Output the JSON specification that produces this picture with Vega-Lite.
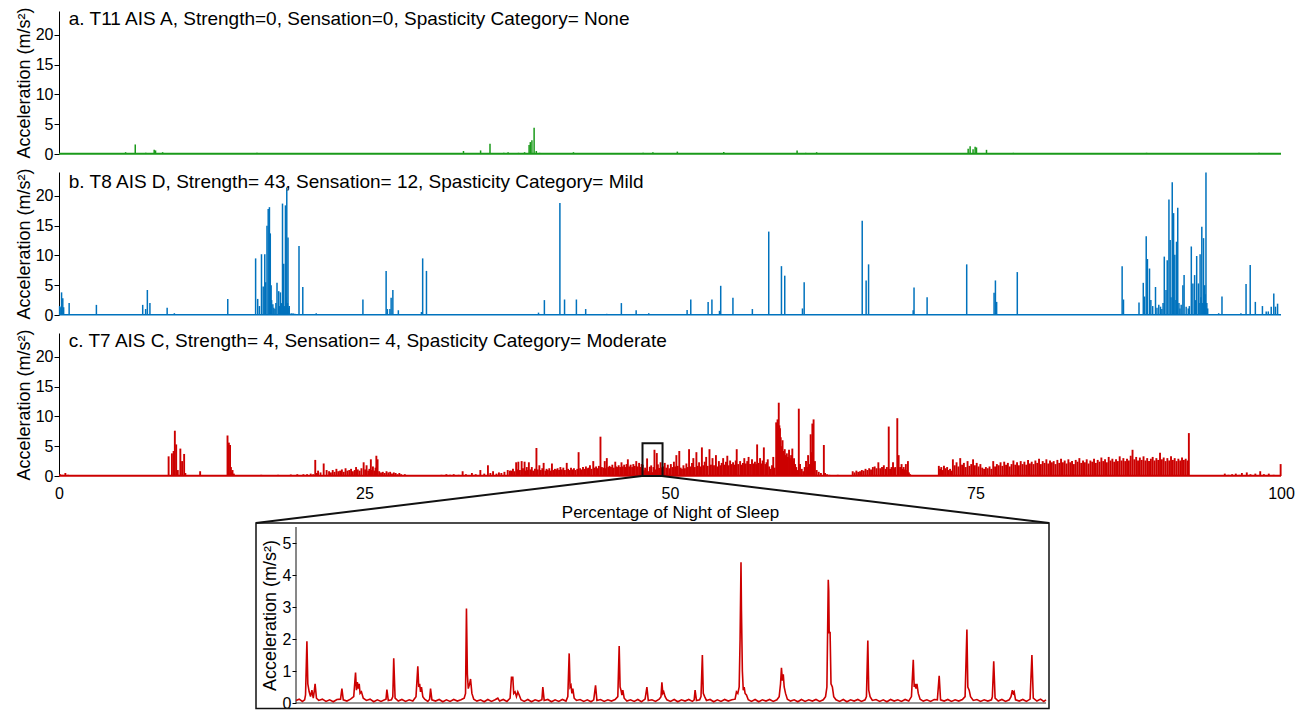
{
"$schema":"https://vega.github.io/schema/vega-lite/v6.json",
"background":"white",
"padding":{"left":15,"top":6,"right":8,"bottom":2},
"bounds":"flush",
"spacing":18,
"config":{"view":{"stroke":null},"font":"Liberation Sans",
"axis":{"labelFont":"Liberation Sans","titleFont":"Liberation Sans","labelColor":"#000","titleColor":"#000","domainColor":"#000","tickColor":"#000","labelFontSize":16,"titleFontSize":18,"titleFontWeight":"normal","grid":false,"labelOverlap":false}},
"datasets":{
"a":[{"x":2.0,"y":0.1},{"x":5.45,"y":0.3},{"x":6.24,"y":1.6},{"x":7.1,"y":0.2},{"x":7.79,"y":0.7},{"x":7.9,"y":0.6},{"x":8.48,"y":0.3},{"x":9.0,"y":0.15},{"x":11.5,"y":0.1},{"x":13.0,"y":0.1},{"x":16.2,"y":0.2},{"x":17.96,"y":0.1},{"x":33.1,"y":0.5},{"x":34.5,"y":0.6},{"x":35.27,"y":1.7},{"x":36.4,"y":0.2},{"x":36.75,"y":0.3},{"x":37.6,"y":0.2},{"x":38.1,"y":0.3},{"x":38.47,"y":1.5},{"x":38.57,"y":2.0},{"x":38.7,"y":2.3},{"x":38.88,"y":4.4},{"x":39.06,"y":0.5},{"x":39.33,"y":0.2},{"x":42.1,"y":0.3},{"x":47.8,"y":0.2},{"x":48.6,"y":0.3},{"x":49.6,"y":0.1},{"x":50.6,"y":0.4},{"x":53.0,"y":0.1},{"x":54.4,"y":0.35},{"x":58.0,"y":0.1},{"x":60.4,"y":0.6},{"x":61.1,"y":0.2},{"x":62.0,"y":0.3},{"x":74.4,"y":0.9},{"x":74.56,"y":1.3},{"x":74.8,"y":0.8},{"x":74.97,"y":1.2},{"x":75.08,"y":1.1},{"x":75.9,"y":0.7},{"x":77.5,"y":0.1},{"x":78.1,"y":0.2},{"x":83.3,"y":0.1},{"x":86.0,"y":0.1},{"x":89.0,"y":0.2},{"x":92.3,"y":0.1},{"x":95.0,"y":0.1},{"x":98.2,"y":0.2}],
"b":[{"x":0.05,"y":1.5},{"x":0.15,"y":1.3},{"x":0.21,"y":3.8},{"x":0.31,"y":2.8},{"x":0.38,"y":1.3},{"x":0.83,"y":2.0},{"x":3.06,"y":1.7},{"x":6.85,"y":1.7},{"x":7.09,"y":1.0},{"x":7.23,"y":4.2},{"x":7.44,"y":2.0},{"x":8.85,"y":1.2},{"x":9.44,"y":0.3},{"x":13.81,"y":2.7},{"x":16.09,"y":9.5},{"x":16.26,"y":2.7},{"x":16.4,"y":1.5},{"x":16.57,"y":10.2},{"x":16.71,"y":4.8},{"x":16.84,"y":10.2},{"x":16.91,"y":5.5},{"x":17.02,"y":15.0},{"x":17.12,"y":17.8},{"x":17.22,"y":18.1},{"x":17.29,"y":13.7},{"x":17.36,"y":5.0},{"x":17.4,"y":2.5},{"x":17.5,"y":1.8},{"x":17.58,"y":1.2},{"x":17.67,"y":1.0},{"x":17.75,"y":2.0},{"x":17.84,"y":5.4},{"x":17.98,"y":4.0},{"x":18.05,"y":1.5},{"x":18.12,"y":3.8},{"x":18.2,"y":2.0},{"x":18.29,"y":18.7},{"x":18.39,"y":8.6},{"x":18.46,"y":1.5},{"x":18.53,"y":18.4},{"x":18.58,"y":3.0},{"x":18.64,"y":21.4},{"x":18.7,"y":2.0},{"x":18.74,"y":13.0},{"x":18.8,"y":1.2},{"x":18.84,"y":1.5},{"x":19.0,"y":0.3},{"x":19.15,"y":0.3},{"x":19.3,"y":0.2},{"x":19.64,"y":11.6},{"x":19.95,"y":4.7},{"x":21.05,"y":0.3},{"x":24.87,"y":2.6},{"x":26.77,"y":7.4},{"x":26.87,"y":1.0},{"x":27.08,"y":1.0},{"x":27.18,"y":2.9},{"x":27.32,"y":4.2},{"x":27.77,"y":0.8},{"x":29.66,"y":0.5},{"x":29.76,"y":9.5},{"x":30.07,"y":7.4},{"x":39.24,"y":0.4},{"x":39.72,"y":2.5},{"x":40.99,"y":18.8},{"x":41.37,"y":2.6},{"x":42.34,"y":2.6},{"x":43.1,"y":1.0},{"x":44.82,"y":0.2},{"x":46.02,"y":2.0},{"x":47.23,"y":0.8},{"x":48.26,"y":0.3},{"x":51.4,"y":0.84},{"x":51.7,"y":2.6},{"x":53.12,"y":2.2},{"x":53.43,"y":2.6},{"x":54.05,"y":0.7},{"x":54.15,"y":4.9},{"x":55.15,"y":2.9},{"x":56.74,"y":1.0},{"x":58.08,"y":14.0},{"x":59.12,"y":8.2},{"x":59.39,"y":6.6},{"x":60.84,"y":1.1},{"x":60.98,"y":5.5},{"x":65.73,"y":15.8},{"x":66.05,"y":5.8},{"x":66.25,"y":8.5},{"x":69.9,"y":0.8},{"x":69.97,"y":4.6},{"x":71.04,"y":3.0},{"x":74.28,"y":8.5},{"x":76.52,"y":3.75},{"x":76.63,"y":5.8},{"x":76.73,"y":2.2},{"x":78.42,"y":7.2},{"x":87.0,"y":8.2},{"x":87.11,"y":2.6},{"x":88.38,"y":2.1},{"x":88.73,"y":5.4},{"x":88.83,"y":3.1},{"x":88.97,"y":13.2},{"x":89.07,"y":9.4},{"x":89.24,"y":7.8},{"x":89.35,"y":2.5},{"x":89.5,"y":1.5},{"x":89.73,"y":4.7},{"x":89.85,"y":1.2},{"x":90.0,"y":1.7},{"x":90.14,"y":1.4},{"x":90.25,"y":1.0},{"x":90.35,"y":2.0},{"x":90.45,"y":9.8},{"x":90.59,"y":4.2},{"x":90.69,"y":9.2},{"x":90.83,"y":19.4},{"x":90.93,"y":12.6},{"x":91.0,"y":3.0},{"x":91.1,"y":22.3},{"x":91.21,"y":17.1},{"x":91.31,"y":10.1},{"x":91.4,"y":2.5},{"x":91.45,"y":12.3},{"x":91.55,"y":18.0},{"x":91.65,"y":2.0},{"x":91.73,"y":1.1},{"x":91.83,"y":1.7},{"x":91.97,"y":5.0},{"x":92.07,"y":6.7},{"x":92.24,"y":1.4},{"x":92.41,"y":1.1},{"x":92.5,"y":1.5},{"x":92.66,"y":11.5},{"x":92.79,"y":5.3},{"x":92.93,"y":6.7},{"x":93.0,"y":2.5},{"x":93.1,"y":9.9},{"x":93.24,"y":5.3},{"x":93.3,"y":2.0},{"x":93.38,"y":10.2},{"x":93.45,"y":3.0},{"x":93.52,"y":14.8},{"x":93.6,"y":2.0},{"x":93.66,"y":12.9},{"x":93.76,"y":5.0},{"x":93.8,"y":3.5},{"x":93.86,"y":23.9},{"x":93.93,"y":2.0},{"x":94.0,"y":1.1},{"x":94.9,"y":0.3},{"x":95.17,"y":3.1},{"x":96.72,"y":0.3},{"x":97.14,"y":5.2},{"x":97.48,"y":8.4},{"x":97.9,"y":2.2},{"x":98.48,"y":1.5},{"x":98.79,"y":0.6},{"x":98.96,"y":0.6},{"x":99.2,"y":1.4},{"x":99.41,"y":3.6},{"x":99.55,"y":1.4},{"x":99.72,"y":1.9}],
"c":[{"x":0.1,"y":0.3},{"x":0.3,"y":0.2},{"x":0.52,"y":0.5},{"x":0.75,"y":0.2},{"x":1.0,"y":0.15},{"x":1.4,"y":0.1},{"x":2.1,"y":0.1},{"x":2.5,"y":0.1},{"x":3.5,"y":0.08},{"x":4.8,"y":0.1},{"x":5.5,"y":0.1},{"x":6.8,"y":0.1},{"x":7.5,"y":0.12},{"x":8.2,"y":0.1},
{"x":8.97,"y":3.3},{"x":9.24,"y":3.8},{"x":9.38,"y":4.2},{"x":9.48,"y":7.6},{"x":9.59,"y":5.3},{"x":9.72,"y":1.0},{"x":9.93,"y":4.6},{"x":10.07,"y":2.5},{"x":10.24,"y":3.7},{"x":10.34,"y":0.5},{"x":11.55,"y":0.8},{"x":13.79,"y":6.8},{"x":13.83,"y":2.2},{"x":13.9,"y":5.6},{"x":14.0,"y":5.2},{"x":14.07,"y":1.5},{"x":14.14,"y":0.7},{"x":14.2,"y":1.0},{"x":14.31,"y":0.4},{"x":15.0,"y":0.1},{"x":16.55,"y":0.2},{"x":17.93,"y":0.2},{"x":18.97,"y":0.25},{"x":19.5,"y":0.3},{"x":20.0,"y":0.3},{"x":20.3,"y":0.3},{"x":20.6,"y":0.4},{"x":20.8,"y":0.3},{"x":20.97,"y":2.7},{"x":21.1,"y":0.5},{"x":21.2,"y":0.9},{"x":21.4,"y":0.6},{"x":21.66,"y":2.1},{"x":21.9,"y":1.0},
{"x":22.1,"y":0.8},{"x":22.25,"y":0.6},{"x":22.4,"y":1.0},{"x":22.55,"y":0.7},{"x":22.7,"y":1.2},{"x":22.85,"y":0.8},{"x":23.0,"y":0.9},{"x":23.15,"y":1.1},{"x":23.3,"y":0.7},{"x":23.45,"y":1.3},{"x":23.6,"y":0.9},{"x":23.75,"y":1.0},{"x":23.9,"y":1.2},{"x":24.05,"y":0.8},{"x":24.2,"y":1.0},{"x":24.31,"y":1.5},{"x":24.45,"y":1.1},{"x":24.6,"y":0.9},{"x":24.75,"y":1.3},{"x":24.93,"y":2.3},{"x":25.05,"y":1.1},{"x":25.17,"y":1.8},{"x":25.3,"y":0.9},{"x":25.4,"y":1.2},{"x":25.52,"y":2.8},{"x":25.6,"y":1.0},{"x":25.69,"y":1.6},{"x":25.8,"y":0.9},{"x":25.9,"y":1.4},{"x":25.97,"y":3.4},{"x":26.07,"y":2.8},{"x":26.2,"y":0.8},{"x":26.35,"y":0.6},{"x":26.5,"y":0.7},{"x":26.65,"y":0.5},{"x":26.8,"y":0.8},{"x":26.95,"y":0.6},{"x":27.1,"y":0.7},{"x":27.25,"y":0.4},{"x":27.4,"y":0.6},{"x":27.55,"y":0.5},{"x":27.7,"y":0.3},{"x":27.85,"y":0.5},{"x":28.0,"y":0.3},{"x":28.3,"y":0.3},{"x":29.0,"y":0.15},{"x":29.6,"y":0.1},{"x":30.2,"y":0.15},{"x":30.8,"y":0.1},{"x":31.3,"y":0.2},
{"x":31.7,"y":0.3},{"x":32.0,"y":0.2},{"x":32.3,"y":0.3},{"x":32.7,"y":0.2},{"x":33.03,"y":0.8},{"x":33.3,"y":0.3},{"x":33.79,"y":0.5},{"x":34.1,"y":0.3},{"x":34.48,"y":1.0},{"x":34.8,"y":0.4},{"x":35.1,"y":1.8},{"x":35.3,"y":0.5},{"x":35.52,"y":0.8},{"x":35.8,"y":0.4},{"x":36.0,"y":0.6},{"x":36.2,"y":0.5},{"x":36.45,"y":0.7},{"x":36.72,"y":1.0},{"x":36.9,"y":0.9},
{"x":37.0,"y":0.9},{"x":37.15,"y":1.2},{"x":37.28,"y":0.8},{"x":37.41,"y":2.3},{"x":37.5,"y":1.1},{"x":37.59,"y":2.4},{"x":37.72,"y":1.0},{"x":37.86,"y":2.5},{"x":37.97,"y":1.3},{"x":38.1,"y":2.4},{"x":38.2,"y":0.9},{"x":38.28,"y":1.5},{"x":38.37,"y":1.0},{"x":38.45,"y":2.3},{"x":38.57,"y":1.1},{"x":38.69,"y":1.5},{"x":38.8,"y":0.9},{"x":38.95,"y":1.2},{"x":39.07,"y":4.7},{"x":39.18,"y":1.1},{"x":39.31,"y":1.8},{"x":39.43,"y":1.0},{"x":39.55,"y":1.3},{"x":39.66,"y":2.2},{"x":39.8,"y":0.9},{"x":39.9,"y":1.2},{"x":40.0,"y":1.0},{"x":40.12,"y":1.3},{"x":40.22,"y":0.9},{"x":40.34,"y":2.1},{"x":40.46,"y":1.0},{"x":40.58,"y":1.2},{"x":40.69,"y":1.1},{"x":40.8,"y":1.3},{"x":40.92,"y":1.0},{"x":41.03,"y":1.5},{"x":41.15,"y":1.1},{"x":41.27,"y":1.4},{"x":41.4,"y":1.0},{"x":41.55,"y":2.2},{"x":41.66,"y":1.2},{"x":41.78,"y":1.0},{"x":41.9,"y":1.4},{"x":42.02,"y":1.1},{"x":42.14,"y":1.3},{"x":42.27,"y":1.0},{"x":42.41,"y":1.2},{"x":42.52,"y":4.0},{"x":42.64,"y":1.3},{"x":42.76,"y":1.1},{"x":42.88,"y":1.5},{"x":43.0,"y":1.2},{"x":43.12,"y":1.6},{"x":43.23,"y":1.3},{"x":43.34,"y":1.4},{"x":43.45,"y":1.8},{"x":43.58,"y":1.2},{"x":43.72,"y":2.5},{"x":43.83,"y":1.4},{"x":43.95,"y":1.6},{"x":44.05,"y":1.3},{"x":44.18,"y":1.7},{"x":44.31,"y":6.6},{"x":44.42,"y":1.5},{"x":44.54,"y":1.4},{"x":44.66,"y":2.5},{"x":44.75,"y":1.3},{"x":44.83,"y":3.0},{"x":44.95,"y":1.5},{"x":45.05,"y":1.7},{"x":45.17,"y":1.5},{"x":45.28,"y":1.9},{"x":45.4,"y":1.4},{"x":45.52,"y":2.4},{"x":45.6,"y":1.6},{"x":45.69,"y":1.5},{"x":45.8,"y":1.8},{"x":45.92,"y":1.5},{"x":46.03,"y":2.3},{"x":46.14,"y":1.6},{"x":46.25,"y":1.9},{"x":46.35,"y":1.5},{"x":46.45,"y":2.0},{"x":46.55,"y":2.8},{"x":46.66,"y":1.6},{"x":46.78,"y":1.9},{"x":46.9,"y":1.5},{"x":47.0,"y":2.0},{"x":47.12,"y":1.7},{"x":47.24,"y":2.5},{"x":47.35,"y":1.6},{"x":47.47,"y":2.2},{"x":47.59,"y":1.5},{"x":47.68,"y":2.0},
{"x":47.774,"y":1.9},{"x":47.792,"y":0.6},{"x":47.82,"y":0.3},{"x":47.851,"y":0.45},{"x":47.881,"y":0.95},{"x":47.92,"y":0.3},{"x":47.95,"y":0.42},{"x":47.965,"y":1.4},{"x":47.99,"y":0.3},{"x":48.018,"y":1.15},{"x":48.046,"y":0.45},{"x":48.08,"y":0.3},{"x":48.125,"y":2.95},{"x":48.134,"y":0.75},{"x":48.17,"y":0.3},{"x":48.194,"y":0.2},{"x":48.226,"y":0.8},{"x":48.26,"y":0.3},{"x":48.293,"y":0.5},{"x":48.32,"y":0.3},{"x":48.351,"y":1.55},{"x":48.38,"y":0.3},{"x":48.409,"y":0.55},{"x":48.435,"y":0.3},{"x":48.461,"y":1.78},{"x":48.49,"y":0.3},{"x":48.522,"y":0.5},{"x":48.555,"y":0.65},{"x":48.59,"y":0.3},{"x":48.628,"y":0.4},{"x":48.644,"y":1.5},{"x":48.68,"y":0.3},{"x":48.729,"y":4.4},{"x":48.77,"y":0.3},{"x":48.818,"y":1.1},{"x":48.86,"y":0.3},{"x":48.921,"y":3.85},{"x":48.96,"y":0.3},{"x":49.008,"y":1.95},{"x":49.05,"y":0.3},{"x":49.108,"y":1.35},{"x":49.165,"y":0.85},{"x":49.2,"y":0.3},{"x":49.226,"y":2.3},{"x":49.285,"y":1.3},{"x":49.326,"y":0.4},{"x":49.369,"y":1.5},
{"x":49.45,"y":1.6},{"x":49.57,"y":2.2},{"x":49.7,"y":1.4},{"x":49.82,"y":1.9},{"x":49.95,"y":1.3},{"x":50.07,"y":2.0},{"x":50.2,"y":1.5},{"x":50.32,"y":2.4},{"x":50.42,"y":1.6},{"x":50.52,"y":3.5},{"x":50.63,"y":1.7},{"x":50.76,"y":4.2},{"x":50.87,"y":1.4},{"x":50.98,"y":1.2},{"x":51.1,"y":1.8},{"x":51.22,"y":1.3},{"x":51.34,"y":2.1},{"x":51.45,"y":1.5},{"x":51.56,"y":4.5},{"x":51.68,"y":1.6},{"x":51.8,"y":2.2},{"x":51.91,"y":3.0},{"x":52.03,"y":1.5},{"x":52.16,"y":4.0},{"x":52.27,"y":1.7},{"x":52.38,"y":2.3},{"x":52.5,"y":1.6},{"x":52.61,"y":4.8},{"x":52.72,"y":1.8},{"x":52.84,"y":2.4},{"x":52.96,"y":3.2},{"x":53.08,"y":1.7},{"x":53.23,"y":4.5},{"x":53.35,"y":1.9},{"x":53.48,"y":3.0},{"x":53.6,"y":1.8},{"x":53.76,"y":3.5},{"x":53.88,"y":1.6},{"x":54.0,"y":2.5},{"x":54.12,"y":1.8},{"x":54.23,"y":2.2},{"x":54.35,"y":3.0},{"x":54.47,"y":1.9},{"x":54.58,"y":2.4},{"x":54.69,"y":3.4},{"x":54.8,"y":1.8},{"x":54.92,"y":2.6},{"x":55.04,"y":2.0},{"x":55.16,"y":2.3},{"x":55.28,"y":1.9},{"x":55.38,"y":2.6},{"x":55.46,"y":4.5},{"x":55.58,"y":2.0},{"x":55.74,"y":2.5},{"x":55.85,"y":1.9},{"x":55.97,"y":2.2},{"x":56.08,"y":3.0},{"x":56.2,"y":2.1},{"x":56.32,"y":2.5},{"x":56.43,"y":3.2},{"x":56.55,"y":2.0},{"x":56.71,"y":2.8},{"x":56.82,"y":2.1},{"x":56.95,"y":2.4},{"x":57.05,"y":2.0},{"x":57.13,"y":5.3},{"x":57.25,"y":2.2},{"x":57.37,"y":3.0},{"x":57.48,"y":2.1},{"x":57.58,"y":2.6},{"x":57.68,"y":4.8},{"x":57.8,"y":2.0},{"x":57.9,"y":2.3},{"x":58.0,"y":2.8},{"x":58.12,"y":1.6},{"x":58.24,"y":1.2},{"x":58.35,"y":1.8},{"x":58.45,"y":3.2},{"x":58.56,"y":1.4},
{"x":58.69,"y":9.0},{"x":58.75,"y":6.0},{"x":58.8,"y":9.5},{"x":58.85,"y":7.5},{"x":58.9,"y":12.3},{"x":58.95,"y":8.5},{"x":59.0,"y":8.0},{"x":59.06,"y":6.5},{"x":59.11,"y":5.0},{"x":59.16,"y":4.0},{"x":59.21,"y":6.0},{"x":59.3,"y":4.2},{"x":59.39,"y":4.5},{"x":59.47,"y":3.5},{"x":59.56,"y":3.8},{"x":59.65,"y":3.2},{"x":59.74,"y":4.4},{"x":59.82,"y":3.0},{"x":59.91,"y":3.5},{"x":60.01,"y":4.6},{"x":60.08,"y":2.5},{"x":60.15,"y":3.0},{"x":60.24,"y":2.0},{"x":60.33,"y":1.5},{"x":60.42,"y":1.0},{"x":60.54,"y":11.3},{"x":60.64,"y":2.0},{"x":60.78,"y":1.2},{"x":60.9,"y":0.8},{"x":61.02,"y":1.5},{"x":61.13,"y":2.5},{"x":61.22,"y":1.5},{"x":61.3,"y":3.5},{"x":61.42,"y":2.0},{"x":61.51,"y":7.0},{"x":61.58,"y":4.0},{"x":61.65,"y":8.8},{"x":61.75,"y":9.5},{"x":61.86,"y":2.5},{"x":62.0,"y":1.0},{"x":62.17,"y":0.7},{"x":62.35,"y":0.5},{"x":62.59,"y":5.2},{"x":62.69,"y":0.5},{"x":62.85,"y":0.3},{"x":63.04,"y":0.2},{"x":63.4,"y":0.15},{"x":63.73,"y":0.2},{"x":64.2,"y":0.1},{"x":64.6,"y":0.15},
{"x":64.95,"y":0.8},{"x":65.1,"y":0.6},{"x":65.25,"y":0.9},{"x":65.4,"y":0.7},{"x":65.55,"y":0.8},{"x":65.7,"y":1.0},{"x":65.85,"y":0.9},{"x":66.0,"y":1.2},{"x":66.15,"y":1.0},{"x":66.3,"y":1.3},{"x":66.45,"y":1.1},{"x":66.6,"y":1.5},{"x":66.75,"y":1.6},{"x":66.9,"y":1.3},{"x":67.05,"y":2.3},{"x":67.2,"y":1.3},{"x":67.35,"y":1.5},{"x":67.5,"y":1.8},{"x":67.65,"y":1.2},{"x":67.75,"y":1.5},{"x":67.9,"y":8.3},{"x":68.01,"y":1.2},{"x":68.13,"y":1.5},{"x":68.25,"y":2.3},{"x":68.35,"y":1.3},{"x":68.43,"y":1.5},{"x":68.6,"y":9.7},{"x":68.71,"y":3.5},{"x":68.83,"y":1.5},{"x":68.95,"y":2.0},{"x":69.05,"y":1.2},{"x":69.12,"y":1.5},{"x":69.22,"y":1.1},{"x":69.3,"y":2.0},{"x":69.4,"y":1.0},{"x":69.47,"y":2.5},{"x":69.55,"y":0.6},{"x":69.65,"y":0.3},
{"x":72.0,"y":1.7},{"x":72.1,"y":1.2},{"x":72.2,"y":1.5},{"x":72.3,"y":1.0},{"x":72.42,"y":1.7},{"x":72.55,"y":1.3},{"x":72.68,"y":1.5},{"x":72.8,"y":1.0},{"x":72.92,"y":1.2},{"x":73.05,"y":0.9},
{"x":73.15,"y":2.8},{"x":73.3,"y":1.8},{"x":73.45,"y":2.3},{"x":73.6,"y":1.6},{"x":73.75,"y":3.0},{"x":73.9,"y":1.9},{"x":74.05,"y":2.2},{"x":74.2,"y":1.5},{"x":74.35,"y":2.5},{"x":74.5,"y":1.7},{"x":74.65,"y":2.0},{"x":74.8,"y":2.8},{"x":74.95,"y":1.8},{"x":75.1,"y":2.2},{"x":75.25,"y":1.6},{"x":75.4,"y":2.0},{"x":75.55,"y":1.4},{"x":75.7,"y":1.2},{"x":75.85,"y":1.5},{"x":76.0,"y":1.3},{"x":76.15,"y":1.6},{"x":76.3,"y":1.2},{"x":76.45,"y":2.5},{"x":76.6,"y":1.6},{"x":76.75,"y":2.0},{"x":76.9,"y":1.8},{"x":77.05,"y":2.3},{"x":77.2,"y":1.7},{"x":77.35,"y":2.4},{"x":77.5,"y":1.9},{"x":77.65,"y":2.2},{"x":77.8,"y":1.6},{"x":77.95,"y":2.0},{"x":78.1,"y":2.6},{"x":78.25,"y":1.9},{"x":78.4,"y":2.3},{"x":78.55,"y":1.8},{"x":78.7,"y":2.5},{"x":78.85,"y":2.0},{"x":79.0,"y":2.4},{"x":79.15,"y":1.9},{"x":79.3,"y":2.7},{"x":79.45,"y":2.1},{"x":79.6,"y":2.4},{"x":79.75,"y":2.0},{"x":79.9,"y":2.6},{"x":80.05,"y":2.2},{"x":80.2,"y":2.9},{"x":80.35,"y":2.0},{"x":80.5,"y":2.5},{"x":80.65,"y":2.2},{"x":80.8,"y":2.8},{"x":80.95,"y":2.1},{"x":81.1,"y":2.6},{"x":81.25,"y":2.3},{"x":81.4,"y":2.5},{"x":81.55,"y":2.0},{"x":81.7,"y":2.7},{"x":81.85,"y":2.2},{"x":82.0,"y":2.9},{"x":82.15,"y":2.3},{"x":82.3,"y":2.6},{"x":82.45,"y":2.1},{"x":82.6,"y":2.8},{"x":82.75,"y":2.3},{"x":82.9,"y":2.5},{"x":83.05,"y":2.0},{"x":83.2,"y":2.7},{"x":83.35,"y":2.4},{"x":83.5,"y":3.0},{"x":83.65,"y":2.2},{"x":83.8,"y":2.6},{"x":83.95,"y":2.3},{"x":84.1,"y":2.8},{"x":84.25,"y":2.1},{"x":84.4,"y":2.6},{"x":84.55,"y":2.4},{"x":84.7,"y":2.9},{"x":84.85,"y":2.2},{"x":85.0,"y":2.7},{"x":85.15,"y":2.4},{"x":85.3,"y":3.1},{"x":85.45,"y":2.5},{"x":85.6,"y":2.8},{"x":85.75,"y":2.3},{"x":85.9,"y":3.2},{"x":86.05,"y":2.6},{"x":86.2,"y":2.9},{"x":86.35,"y":2.4},{"x":86.5,"y":2.8},{"x":86.65,"y":2.5},{"x":86.8,"y":3.3},{"x":86.95,"y":2.6},{"x":87.1,"y":3.0},{"x":87.25,"y":2.5},{"x":87.4,"y":2.9},{"x":87.55,"y":2.6},{"x":87.7,"y":3.4},{"x":87.85,"y":4.4},{"x":88.0,"y":2.8},{"x":88.15,"y":3.2},{"x":88.3,"y":2.6},{"x":88.45,"y":3.1},{"x":88.6,"y":2.7},{"x":88.75,"y":3.3},{"x":88.9,"y":2.6},{"x":89.05,"y":3.0},{"x":89.2,"y":2.5},{"x":89.35,"y":2.9},{"x":89.5,"y":3.2},{"x":89.65,"y":2.6},{"x":89.8,"y":3.0},{"x":89.95,"y":2.7},{"x":90.1,"y":3.9},{"x":90.25,"y":2.8},{"x":90.4,"y":3.1},{"x":90.55,"y":2.5},{"x":90.7,"y":3.0},{"x":90.85,"y":2.6},{"x":91.0,"y":3.3},{"x":91.15,"y":2.7},{"x":91.3,"y":3.0},{"x":91.45,"y":2.5},{"x":91.6,"y":2.9},{"x":91.75,"y":2.6},{"x":91.9,"y":3.1},{"x":92.05,"y":2.7},{"x":92.2,"y":2.9},{"x":92.35,"y":2.6},{"x":92.46,"y":7.2},
{"x":95.4,"y":0.4},{"x":95.7,"y":0.2},{"x":96.0,"y":0.3},{"x":96.3,"y":0.4},{"x":96.6,"y":0.2},{"x":96.8,"y":0.5},{"x":97.2,"y":0.6},{"x":97.5,"y":0.3},{"x":97.9,"y":0.4},{"x":98.3,"y":0.8},{"x":98.6,"y":0.3},{"x":99.0,"y":0.4},{"x":99.4,"y":0.2},{"x":99.97,"y":2.0}],
"z":[{"x":47.75,"y":0.08},{"x":47.757,"y":0.12},{"x":47.764,"y":0.05},{"x":47.769,"y":0.1},{"x":47.771,"y":0.25},{"x":47.774,"y":1.93},{"x":47.776,"y":0.6},{"x":47.779,"y":0.35},{"x":47.782,"y":0.2},{"x":47.785,"y":0.4},{"x":47.788,"y":0.15},{"x":47.79,"y":0.35},{"x":47.792,"y":0.6},{"x":47.795,"y":0.15},{"x":47.8,"y":0.08},{"x":47.808,"y":0.12},{"x":47.816,"y":0.05},{"x":47.824,"y":0.1},{"x":47.832,"y":0.04},{"x":47.84,"y":0.11},{"x":47.848,"y":0.12},{"x":47.851,"y":0.45},{"x":47.854,"y":0.1},{"x":47.862,"y":0.06},{"x":47.87,"y":0.12},{"x":47.877,"y":0.2},{"x":47.881,"y":0.95},{"x":47.883,"y":0.4},{"x":47.885,"y":0.65},{"x":47.887,"y":0.45},{"x":47.889,"y":0.6},{"x":47.891,"y":0.3},{"x":47.894,"y":0.35},{"x":47.898,"y":0.15},{"x":47.905,"y":0.08},{"x":47.913,"y":0.12},{"x":47.921,"y":0.04},{"x":47.929,"y":0.1},{"x":47.937,"y":0.05},{"x":47.945,"y":0.1},{"x":47.948,"y":0.12},{"x":47.95,"y":0.42},{"x":47.953,"y":0.08},{"x":47.96,"y":0.1},{"x":47.963,"y":0.2},{"x":47.965,"y":1.4},{"x":47.968,"y":0.15},{"x":47.975,"y":0.06},{"x":47.983,"y":0.11},{"x":47.991,"y":0.05},{"x":47.999,"y":0.1},{"x":48.007,"y":0.06},{"x":48.014,"y":0.2},{"x":48.018,"y":1.15},{"x":48.02,"y":0.5},{"x":48.022,"y":0.6},{"x":48.024,"y":0.35},{"x":48.026,"y":0.5},{"x":48.029,"y":0.2},{"x":48.033,"y":0.12},{"x":48.04,"y":0.05},{"x":48.044,"y":0.12},{"x":48.046,"y":0.45},{"x":48.049,"y":0.1},{"x":48.057,"y":0.06},{"x":48.065,"y":0.11},{"x":48.073,"y":0.04},{"x":48.081,"y":0.1},{"x":48.089,"y":0.05},{"x":48.097,"y":0.11},{"x":48.105,"y":0.06},{"x":48.113,"y":0.1},{"x":48.12,"y":0.15},{"x":48.123,"y":0.3},{"x":48.125,"y":2.95},{"x":48.127,"y":0.9},{"x":48.129,"y":0.45},{"x":48.132,"y":0.6},{"x":48.134,"y":0.75},{"x":48.137,"y":0.3},{"x":48.141,"y":0.12},{"x":48.148,"y":0.06},{"x":48.156,"y":0.1},{"x":48.164,"y":0.04},{"x":48.172,"y":0.11},{"x":48.18,"y":0.05},{"x":48.188,"y":0.1},{"x":48.194,"y":0.15},{"x":48.198,"y":0.06},{"x":48.206,"y":0.11},{"x":48.214,"y":0.05},{"x":48.221,"y":0.15},{"x":48.224,"y":0.8},{"x":48.227,"y":0.8},{"x":48.229,"y":0.3},{"x":48.232,"y":0.35},{"x":48.235,"y":0.2},{"x":48.238,"y":0.35},{"x":48.241,"y":0.25},{"x":48.245,"y":0.1},{"x":48.252,"y":0.05},{"x":48.26,"y":0.11},{"x":48.268,"y":0.04},{"x":48.276,"y":0.1},{"x":48.284,"y":0.06},{"x":48.291,"y":0.1},{"x":48.293,"y":0.5},{"x":48.296,"y":0.08},{"x":48.304,"y":0.11},{"x":48.312,"y":0.04},{"x":48.32,"y":0.1},{"x":48.328,"y":0.05},{"x":48.336,"y":0.11},{"x":48.344,"y":0.06},{"x":48.348,"y":0.2},{"x":48.351,"y":1.55},{"x":48.353,"y":0.5},{"x":48.355,"y":0.55},{"x":48.357,"y":0.3},{"x":48.359,"y":0.45},{"x":48.362,"y":0.15},{"x":48.367,"y":0.08},{"x":48.375,"y":0.11},{"x":48.383,"y":0.05},{"x":48.391,"y":0.1},{"x":48.399,"y":0.04},{"x":48.405,"y":0.1},{"x":48.409,"y":0.55},{"x":48.412,"y":0.08},{"x":48.42,"y":0.11},{"x":48.428,"y":0.05},{"x":48.436,"y":0.1},{"x":48.444,"y":0.06},{"x":48.452,"y":0.11},{"x":48.458,"y":0.2},{"x":48.461,"y":1.78},{"x":48.463,"y":0.5},{"x":48.465,"y":0.4},{"x":48.467,"y":0.25},{"x":48.469,"y":0.4},{"x":48.472,"y":0.15},{"x":48.478,"y":0.06},{"x":48.486,"y":0.1},{"x":48.494,"y":0.05},{"x":48.502,"y":0.11},{"x":48.51,"y":0.04},{"x":48.518,"y":0.12},{"x":48.522,"y":0.5},{"x":48.525,"y":0.08},{"x":48.533,"y":0.1},{"x":48.541,"y":0.05},{"x":48.549,"y":0.12},{"x":48.553,"y":0.2},{"x":48.555,"y":0.65},{"x":48.557,"y":0.3},{"x":48.559,"y":0.35},{"x":48.562,"y":0.2},{"x":48.566,"y":0.1},{"x":48.574,"y":0.05},{"x":48.582,"y":0.11},{"x":48.59,"y":0.04},{"x":48.598,"y":0.1},{"x":48.606,"y":0.06},{"x":48.614,"y":0.11},{"x":48.622,"y":0.05},{"x":48.626,"y":0.1},{"x":48.628,"y":0.4},{"x":48.631,"y":0.08},{"x":48.638,"y":0.1},{"x":48.641,"y":0.2},{"x":48.644,"y":1.5},{"x":48.646,"y":0.3},{"x":48.649,"y":0.2},{"x":48.653,"y":0.08},{"x":48.661,"y":0.11},{"x":48.669,"y":0.04},{"x":48.677,"y":0.1},{"x":48.685,"y":0.05},{"x":48.693,"y":0.11},{"x":48.701,"y":0.06},{"x":48.709,"y":0.1},{"x":48.716,"y":0.12},{"x":48.719,"y":0.35},{"x":48.722,"y":0.3},{"x":48.725,"y":0.5},{"x":48.727,"y":2.0},{"x":48.729,"y":4.4},{"x":48.73,"y":2.9},{"x":48.732,"y":1.0},{"x":48.734,"y":0.4},{"x":48.736,"y":0.5},{"x":48.738,"y":0.3},{"x":48.741,"y":0.25},{"x":48.745,"y":0.1},{"x":48.752,"y":0.05},{"x":48.76,"y":0.11},{"x":48.768,"y":0.04},{"x":48.776,"y":0.1},{"x":48.784,"y":0.06},{"x":48.792,"y":0.11},{"x":48.8,"y":0.05},{"x":48.808,"y":0.1},{"x":48.813,"y":0.2},{"x":48.816,"y":0.6},{"x":48.818,"y":1.1},{"x":48.82,"y":0.7},{"x":48.822,"y":0.9},{"x":48.824,"y":0.5},{"x":48.827,"y":0.3},{"x":48.831,"y":0.12},{"x":48.838,"y":0.06},{"x":48.846,"y":0.1},{"x":48.854,"y":0.04},{"x":48.862,"y":0.11},{"x":48.87,"y":0.05},{"x":48.878,"y":0.1},{"x":48.886,"y":0.06},{"x":48.894,"y":0.11},{"x":48.902,"y":0.05},{"x":48.91,"y":0.1},{"x":48.915,"y":0.2},{"x":48.918,"y":0.5},{"x":48.921,"y":3.85},{"x":48.922,"y":3.5},{"x":48.923,"y":2.2},{"x":48.925,"y":2.2},{"x":48.927,"y":0.6},{"x":48.93,"y":0.5},{"x":48.933,"y":0.2},{"x":48.938,"y":0.1},{"x":48.946,"y":0.05},{"x":48.954,"y":0.11},{"x":48.962,"y":0.04},{"x":48.97,"y":0.1},{"x":48.978,"y":0.06},{"x":48.986,"y":0.11},{"x":48.994,"y":0.05},{"x":49.002,"y":0.1},{"x":49.005,"y":0.2},{"x":49.008,"y":1.95},{"x":49.01,"y":0.4},{"x":49.013,"y":0.2},{"x":49.018,"y":0.08},{"x":49.026,"y":0.11},{"x":49.034,"y":0.05},{"x":49.042,"y":0.1},{"x":49.05,"y":0.04},{"x":49.058,"y":0.11},{"x":49.066,"y":0.06},{"x":49.074,"y":0.1},{"x":49.082,"y":0.05},{"x":49.09,"y":0.11},{"x":49.098,"y":0.06},{"x":49.104,"y":0.2},{"x":49.108,"y":1.35},{"x":49.11,"y":0.5},{"x":49.112,"y":0.6},{"x":49.114,"y":0.45},{"x":49.116,"y":0.6},{"x":49.119,"y":0.3},{"x":49.123,"y":0.12},{"x":49.13,"y":0.06},{"x":49.138,"y":0.1},{"x":49.146,"y":0.05},{"x":49.154,"y":0.11},{"x":49.161,"y":0.1},{"x":49.165,"y":0.85},{"x":49.168,"y":0.1},{"x":49.176,"y":0.06},{"x":49.184,"y":0.11},{"x":49.192,"y":0.05},{"x":49.2,"y":0.1},{"x":49.208,"y":0.06},{"x":49.216,"y":0.11},{"x":49.222,"y":0.2},{"x":49.226,"y":2.3},{"x":49.228,"y":0.5},{"x":49.231,"y":0.4},{"x":49.234,"y":0.2},{"x":49.24,"y":0.08},{"x":49.248,"y":0.11},{"x":49.256,"y":0.05},{"x":49.264,"y":0.1},{"x":49.272,"y":0.06},{"x":49.28,"y":0.1},{"x":49.282,"y":0.2},{"x":49.285,"y":1.3},{"x":49.288,"y":0.15},{"x":49.295,"y":0.06},{"x":49.303,"y":0.11},{"x":49.311,"y":0.05},{"x":49.319,"y":0.1},{"x":49.323,"y":0.2},{"x":49.326,"y":0.4},{"x":49.328,"y":0.3},{"x":49.33,"y":0.35},{"x":49.333,"y":0.1},{"x":49.341,"y":0.06},{"x":49.349,"y":0.11},{"x":49.357,"y":0.05},{"x":49.365,"y":0.12},{"x":49.369,"y":1.5},{"x":49.372,"y":0.15},{"x":49.38,"y":0.06},{"x":49.388,"y":0.12},{"x":49.395,"y":0.05},{"x":49.4,"y":0.1}]
},
"vconcat":[
{"width":1222,"height":143,"layer":[
 {"data":{"name":"a"},"mark":{"type":"rule","color":"#1a9a1a","strokeWidth":1.5},
  "encoding":{"x":{"field":"x","type":"quantitative","scale":{"domain":[0,100],"nice":false,"zero":false},"axis":null},
   "y":{"field":"y","type":"quantitative","scale":{"domain":[0,24],"nice":false},"axis":{"title":"Acceleration (m/s²)","values":[0,5,10,15,20],"tickSize":5,"labelPadding":1,"titlePadding":2,"labelOverlap":false}},
   "y2":{"datum":0}}},
 {"data":{"values":[{}]},"mark":{"type":"rule","color":"#1a9a1a","strokeWidth":2},"encoding":{"y":{"datum":0.05,"axis":{"title":"Acceleration (m/s²)","values":[0,5,10,15,20],"tickSize":5,"labelPadding":1,"titlePadding":2,"labelOverlap":false}}}},
 {"data":{"values":[{}]},"mark":{"type":"text","align":"left","baseline":"middle","fontSize":19,"font":"Liberation Sans","color":"#000"},
  "encoding":{"x":{"datum":0.8,"axis":null},"y":{"datum":22.6,"axis":{"title":"Acceleration (m/s²)","values":[0,5,10,15,20],"tickSize":5,"labelPadding":1,"titlePadding":2,"labelOverlap":false}},"text":{"value":"a. T11 AIS A, Strength=0, Sensation=0, Spasticity Category= None"}}}
]},
{"width":1222,"height":143,"layer":[
 {"data":{"name":"b"},"mark":{"type":"rule","color":"#0072BD","strokeWidth":1.5},
  "encoding":{"x":{"field":"x","type":"quantitative","scale":{"domain":[0,100],"nice":false,"zero":false},"axis":null},
   "y":{"field":"y","type":"quantitative","scale":{"domain":[0,24],"nice":false},"axis":{"title":"Acceleration (m/s²)","values":[0,5,10,15,20],"tickSize":5,"labelPadding":1,"titlePadding":2,"labelOverlap":false}},
   "y2":{"datum":0}}},
 {"data":{"values":[{}]},"mark":{"type":"rule","color":"#0072BD","strokeWidth":1.5},"encoding":{"y":{"datum":0.03,"axis":{"title":"Acceleration (m/s²)","values":[0,5,10,15,20],"tickSize":5,"labelPadding":1,"titlePadding":2,"labelOverlap":false}}}},
 {"data":{"values":[{}]},"mark":{"type":"text","align":"left","baseline":"middle","fontSize":19,"font":"Liberation Sans","color":"#000"},
  "encoding":{"x":{"datum":0.8,"axis":null},"y":{"datum":22.3,"axis":{"title":"Acceleration (m/s²)","values":[0,5,10,15,20],"tickSize":5,"labelPadding":1,"titlePadding":2,"labelOverlap":false}},"text":{"value":"b. T8 AIS D, Strength= 43, Sensation= 12, Spasticity Category= Mild"}}}
]},
{"width":1222,"height":143,"layer":[
 {"data":{"name":"c"},"mark":{"type":"rule","color":"#CC0000","strokeWidth":1.9},
  "encoding":{"x":{"field":"x","type":"quantitative","scale":{"domain":[0,100],"nice":false,"zero":false},"axis":{"title":"Percentage of Night of Sleep","values":[0,25,50,75,100],"ticks":false,"domain":false,"labelFlush":false,"labelPadding":9,"titlePadding":3,"titleFontSize":17}},
   "y":{"field":"y","type":"quantitative","scale":{"domain":[0,24],"nice":false},"axis":{"title":"Acceleration (m/s²)","values":[0,5,10,15,20],"tickSize":5,"labelPadding":1,"titlePadding":2,"labelOverlap":false}},
   "y2":{"datum":0}}},
 {"data":{"values":[{}]},"mark":{"type":"rule","color":"#CC0000","strokeWidth":2},"encoding":{"y":{"datum":0.06,"axis":{"title":"Acceleration (m/s²)","values":[0,5,10,15,20],"tickSize":5,"labelPadding":1,"titlePadding":2,"labelOverlap":false}}}},
 {"data":{"values":[{}]},"mark":{"type":"rect","fillOpacity":0,"stroke":"#111","strokeWidth":2},
  "encoding":{"x":{"datum":47.75,"axis":{"title":"Percentage of Night of Sleep","values":[0,25,50,75,100],"ticks":false,"domain":false,"labelFlush":false,"labelPadding":9,"titlePadding":3,"titleFontSize":17}},"x2":{"datum":49.39},"y":{"datum":0,"axis":{"title":"Acceleration (m/s²)","values":[0,5,10,15,20],"tickSize":5,"labelPadding":1,"titlePadding":2,"labelOverlap":false}},"y2":{"datum":5.5}}},
 {"data":{"values":[{}]},"mark":{"type":"text","align":"left","baseline":"middle","fontSize":19,"font":"Liberation Sans","color":"#000"},
  "encoding":{"x":{"datum":0.8,"axis":{"title":"Percentage of Night of Sleep","values":[0,25,50,75,100],"ticks":false,"domain":false,"labelFlush":false,"labelPadding":9,"titlePadding":3,"titleFontSize":17}},"y":{"datum":22.6,"axis":{"title":"Acceleration (m/s²)","values":[0,5,10,15,20],"tickSize":5,"labelPadding":1,"titlePadding":2,"labelOverlap":false}},"text":{"value":"c. T7 AIS C, Strength= 4, Sensation= 4, Spasticity Category= Moderate"}}}
]},
{"width":1222,"height":215,"layer":[
 {"data":{"values":[{}]},"mark":{"type":"rect","fillOpacity":0,"stroke":"#111","strokeWidth":1.5,"clip":false},
  "encoding":{"x":{"datum":47.662,"axis":null},"x2":{"datum":49.4066},"y":{"datum":-0.17},"y2":{"datum":5.625}}},
 {"data":{"values":[{}]},"mark":{"type":"rule","color":"#111","strokeWidth":1},
  "encoding":{"x":{"datum":47.75,"axis":null},"y":{"datum":0},"y2":{"datum":5.5}}},
 {"data":{"values":[{}]},"mark":{"type":"rule","color":"#333","strokeWidth":1},
  "encoding":{"x":{"datum":47.75,"axis":null},"x2":{"datum":49.4},"y":{"datum":0}}},
 {"data":{"name":"z"},"mark":{"type":"line","color":"#CC0000","strokeWidth":1.6},
  "encoding":{"x":{"field":"x","type":"quantitative","scale":{"domain":[47.2286,49.917],"nice":false,"zero":false},"axis":null},
   "y":{"field":"y","type":"quantitative","scale":{"domain":[-0.1875,6.53125],"nice":false,"zero":false},"axis":{"title":"Acceleration (m/s²)","values":[0,1,2,3,4,5],"offset":-237,"domain":false,"tickSize":4,"labelPadding":1,"titlePadding":3,"titleY":121}}}},
 {"data":{"values":[{}]},"mark":{"type":"rule","color":"#111","strokeWidth":2},
  "encoding":{"x":{"datum":47.662,"axis":null},"y":{"datum":5.625},"x2":{"datum":48.511},"y2":{"datum":7.094}}},
 {"data":{"values":[{}]},"mark":{"type":"rule","color":"#111","strokeWidth":2},
  "encoding":{"x":{"datum":49.4066,"axis":null},"y":{"datum":5.625},"x2":{"datum":48.555},"y2":{"datum":7.094}}}
]}
]
}
